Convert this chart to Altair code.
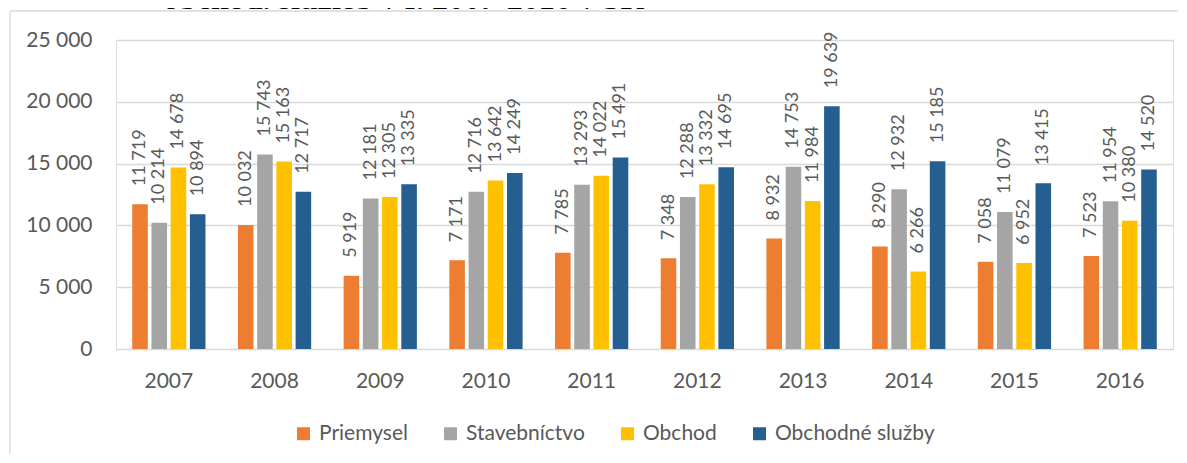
import altair as alt
import pandas as pd

years = ["2007", "2008", "2009", "2010", "2011", "2012", "2013", "2014", "2015", "2016"]
series = ["Priemysel", "Stavebníctvo", "Obchod", "Obchodné služby"]
colors = ["#ED7D31", "#A5A5A5", "#FFC000", "#255E91"]

priemysel = [11719, 10032, 5919, 7171, 7785, 7348, 8932, 8290, 7058, 7523]
stavebnictvo = [10214, 15743, 12181, 12716, 13293, 12288, 14753, 12932, 11079, 11954]
obchod = [14678, 15163, 12305, 13642, 14022, 13332, 11984, 6266, 6952, 10380]
obchodne_sluzby = [10894, 12717, 13335, 14249, 15491, 14695, 19639, 15185, 13415, 14520]

y_ticks = [0, 5000, 10000, 15000, 20000, 25000]
title_text = "obchod. služieb v r. 2007-2016 v SR"

rows = []
for s, vals in zip(series, [priemysel, stavebnictvo, obchod, obchodne_sluzby]):
    for yr, v in zip(years, vals):
        rows.append({"year": yr, "series": s, "value": v,
                     "label": f"{v:,}".replace(",", " ")})
df = pd.DataFrame(rows)

FONT = "Lato"
GREY_TXT = "#595959"
GRID = "#D9D9D9"

x_enc = alt.X("year:N", sort=years,
              scale=alt.Scale(paddingInner=0.307, paddingOuter=0.1535),
              axis=alt.Axis(title=None, labelAngle=0, domain=False, ticks=False,
                            labelPadding=21, labelFontSize=21, labelFont=FONT,
                            labelColor=GREY_TXT, grid=False))
xo_enc = alt.XOffset("series:N", sort=series,
                     scale=alt.Scale(domain=series, paddingInner=0.19, paddingOuter=0))
y_enc = alt.Y("value:Q", scale=alt.Scale(domain=[0, 25000]),
              axis=alt.Axis(title=None, values=y_ticks, domain=False, ticks=False,
                            labelPadding=24, labelFontSize=21, labelFont=FONT,
                            labelColor=GREY_TXT, gridColor=GRID, gridWidth=1.3,
                            labelExpr="replace(format(datum.value, ','), ',', ' ')"))

base = alt.Chart(df)

bars = base.mark_bar().encode(
    x=x_enc,
    xOffset=xo_enc,
    y=y_enc,
    color=alt.Color("series:N", sort=series,
                    scale=alt.Scale(domain=series, range=colors),
                    legend=alt.Legend(title=None, orient="none", legendX=177, legendY=383,
                                      direction="horizontal", columns=4,
                                      symbolType="square", symbolSize=169,
                                      symbolStrokeWidth=0, labelFontSize=21,
                                      labelFont=FONT, labelColor=GREY_TXT,
                                      columnPadding=32, labelOffset=5, padding=0)),
)

labels = base.mark_text(angle=270, align="left", baseline="middle", dx=18,
                        fontSize=18, font=FONT, color=GREY_TXT).encode(
    x=x_enc,
    xOffset=xo_enc,
    y=y_enc,
    text="label:N",
)

one = pd.DataFrame({"a": [0]})
frame_left = alt.Chart(one).mark_rule(color=GRID, strokeWidth=1.3).encode(
    x=alt.value(-106), y=alt.value(-29), y2=alt.value(414))
frame_top = alt.Chart(one).mark_rule(color=GRID, strokeWidth=1.3).encode(
    x=alt.value(-106), x2=alt.value(1062), y=alt.value(-29))

title = alt.Chart(pd.DataFrame({"t": [title_text]})).mark_text(
    align="left", baseline="alphabetic", font="Liberation Serif", fontWeight="bold",
    fontSize=32, color="#000000").encode(
    x=alt.value(47), y=alt.value(-31), text="t:N")

chart = alt.layer(frame_left, frame_top, title, bars, labels).properties(
    width=1057, height=309,
    autosize=alt.AutoSizeParams(type="none"),
    padding={"left": 108, "top": 32, "right": 6, "bottom": 106},
).configure_view(stroke=None).configure(background="white")

chart.save("out.html", embed_options={"renderer": "svg", "actions": False})
